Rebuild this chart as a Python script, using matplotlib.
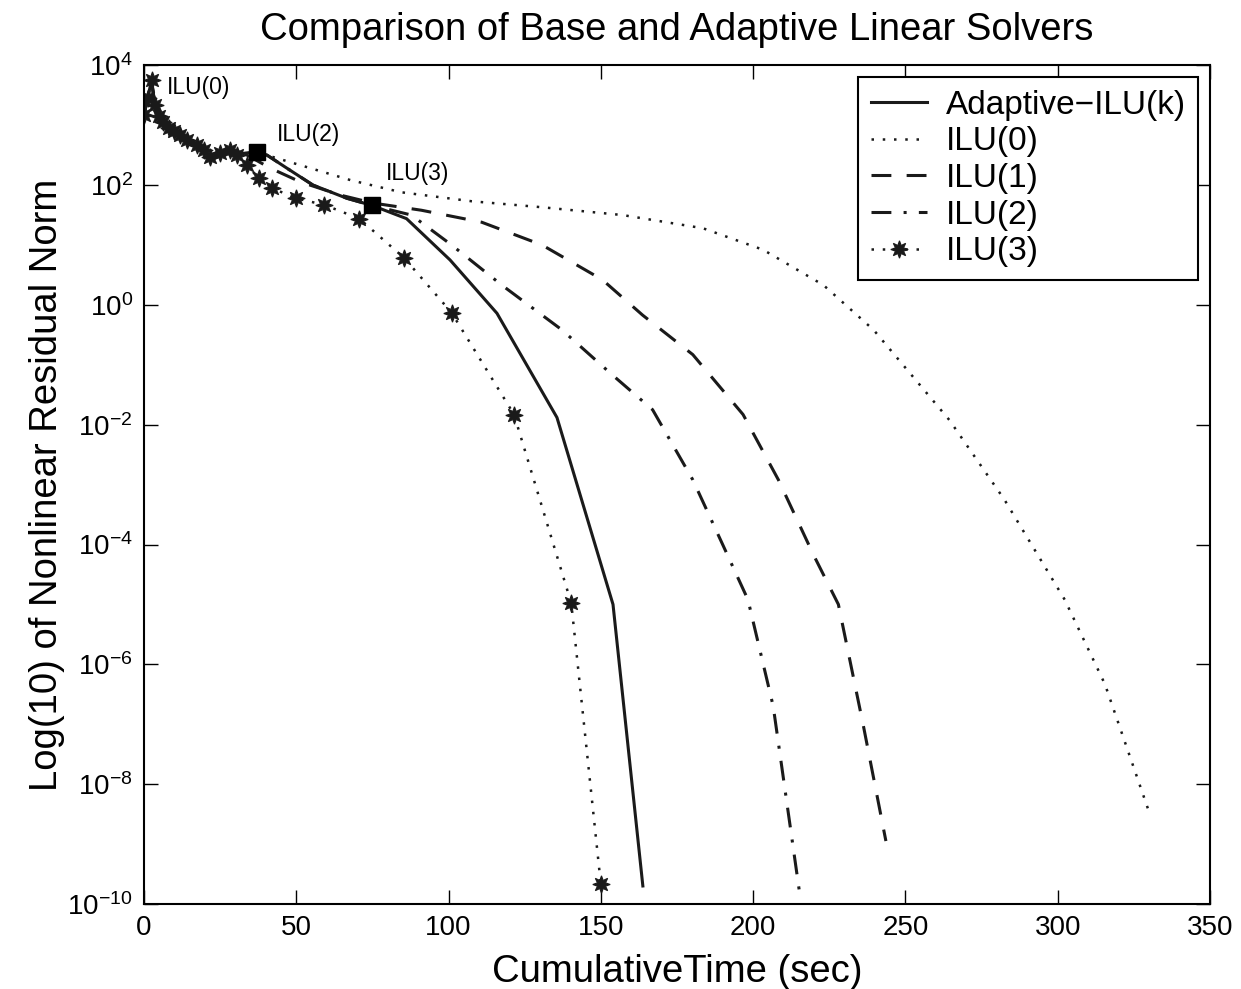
import matplotlib
matplotlib.use("Agg")
import matplotlib.pyplot as plt
import numpy as np

plt.rcParams['font.family'] = ['Liberation Sans', 'DejaVu Sans']
plt.rcParams['mathtext.fontset'] = 'custom'
plt.rcParams['mathtext.rm'] = 'Liberation Sans'
plt.rcParams['mathtext.default'] = 'regular'

# startup phase shared by every solver (time in sec, log10 of residual norm)
t_start = [0.0, 2.5, 3.6, 6.4, 11.9, 17.4, 21.8, 25.1, 28.4, 32.8]
r_start = [3.17, 3.75, 3.33, 3.05, 2.83, 2.67, 2.47, 2.53, 2.58, 2.53]

# adaptive ILU(k): switches to ILU(2) and then ILU(3)
t_adapt = [37.2, 40.4, 47.0, 55.5, 66.6, 74.9, 86.2, 100.5, 115.9, 135.6, 154.0, 163.8]
r_adapt = [2.56, 2.50, 2.28, 2.00, 1.78, 1.66, 1.44, 0.75, -0.14, -1.88, -5.0, -9.7]
t_switch = [37.2, 74.9]
r_switch = [2.56, 1.66]

t_ilu0 = [37.0, 51.5, 68.0, 84.5, 107.6, 130.7, 157.1, 183.5, 203.3, 223.1, 239.6, 264.4, 282.5, 302.3, 315.5, 329.7]
r_ilu0 = [2.55, 2.33, 2.08, 1.88, 1.73, 1.63, 1.50, 1.28, 0.92, 0.33, -0.42, -1.92, -3.25, -4.92, -6.33, -8.42]

t_ilu1 = [41.6, 51.5, 64.7, 75.2, 91.1, 110.9, 130.7, 150.5, 163.7, 180.2, 196.7, 208.3, 219.8, 228.0, 236.3, 243.6]
r_ilu1 = [2.28, 2.05, 1.83, 1.70, 1.58, 1.38, 1.00, 0.42, -0.17, -0.83, -1.83, -2.92, -4.17, -5.0, -7.05, -8.95]

t_ilu2 = [40.4, 47.0, 55.5, 66.6, 74.9, 87.8, 101.0, 117.5, 137.3, 153.8, 167.0, 180.2, 190.0, 198.3, 206.6, 215.5]
r_ilu2 = [2.50, 2.28, 2.00, 1.78, 1.66, 1.50, 1.00, 0.33, -0.42, -1.17, -1.75, -2.92, -4.0, -4.92, -6.7, -9.9]

t_ilu3 = [0.0, 1.2, 2.5, 3.6, 5.0, 6.4, 8.2, 10.0, 11.9, 14.0, 17.4, 19.6, 21.8, 25.1, 28.4, 30.6,
          33.9, 37.7, 42.1, 49.8, 59.2, 70.7, 85.5, 101.0, 121.5, 140.3, 150.0]
r_ilu3 = [3.17, 3.45, 3.75, 3.33, 3.15, 3.05, 2.95, 2.90, 2.83, 2.76, 2.67, 2.58, 2.47, 2.53, 2.58, 2.50,
          2.33, 2.11, 1.95, 1.78, 1.67, 1.44, 0.78, -0.13, -1.83, -4.98, -9.67]

xticks = [0, 50, 100, 150, 200, 250, 300, 350]
yexps = [4, 2, 0, -2, -4, -6, -8, -10]


def full(t, r):
    # prepend the common startup history and convert to residual values
    tt = np.concatenate([t_start, t])
    rr = np.concatenate([r_start, r])
    return tt, 10.0 ** rr


fig = plt.figure(figsize=(12.41, 9.89), dpi=100)
ax = fig.add_axes([0.116, 0.086, 0.859, 0.848])

ink = '#1a1a1a'
ta, ra = full(t_adapt, r_adapt)
ax.plot(ta, ra, color=ink, lw=2.2, ls='-', label='Adaptive\u2212ILU(k)')
t0, r0 = full(t_ilu0, r_ilu0)
ax.plot(t0, r0, color=ink, lw=1.8, ls=(0, (1, 3.5)), label='ILU(0)')
t1, r1 = full(t_ilu1, r_ilu1)
ax.plot(t1, r1, color=ink, lw=2.2, ls=(0, (6.5, 5)), label='ILU(1)')
t2, r2 = full(t_ilu2, r_ilu2)
ax.plot(t2, r2, color=ink, lw=2.2, ls=(0, (6.5, 4, 1, 4)), label='ILU(2)')
ax.plot(t_ilu3, 10.0 ** np.array(r_ilu3), color=ink, lw=1.8, ls=(0, (1, 3.5)),
        marker=(8, 1, 0), markersize=12.5, markeredgewidth=0.8, label='ILU(3)')
ax.plot(t_switch, 10.0 ** np.array(r_switch), ls='none', marker='s',
        markersize=12, color='black')

# labels for the preconditioner switches
ax.text(7.5, 10 ** 3.63, 'ILU(0)', fontsize=16.5, va='center', ha='left')
ax.text(43.5, 10 ** 2.84, 'ILU(2)', fontsize=16.5, va='center', ha='left')
ax.text(79.5, 10 ** 2.2, 'ILU(3)', fontsize=16.5, va='center', ha='left')

ax.set_yscale('log')
ax.set_xlim(0, 350)
ax.set_ylim(1e-10, 1e4)
ax.set_xticks(xticks)
ax.set_xticklabels([str(v) for v in xticks])
ax.set_yticks([10.0 ** e for e in yexps])
ax.set_yticklabels([r'$10^{%d}$' % e for e in yexps])
ax.minorticks_off()
ax.tick_params(direction='in', length=10, width=1, top=True, right=True,
               labelsize=20, pad=8)
for s in ax.spines.values():
    s.set_linewidth(1.5)

ax.set_xlabel('CumulativeTime (sec)', fontsize=27.5, labelpad=9)
ax.set_ylabel('Log(10) of Nonlinear Residual Norm', fontsize=27.5, labelpad=2)
ax.set_title('Comparison of Base and Adaptive Linear Solvers', fontsize=27.5,
             pad=18)

leg = ax.legend(loc='upper right', fontsize=24, numpoints=1, fancybox=False,
                edgecolor='black', framealpha=1, handlelength=1.7,
                handletextpad=0.55, labelspacing=0.17, borderpad=0.38,
                borderaxespad=0.35)
leg.get_frame().set_linewidth(1.5)

fig.savefig('out.png', dpi=100)
